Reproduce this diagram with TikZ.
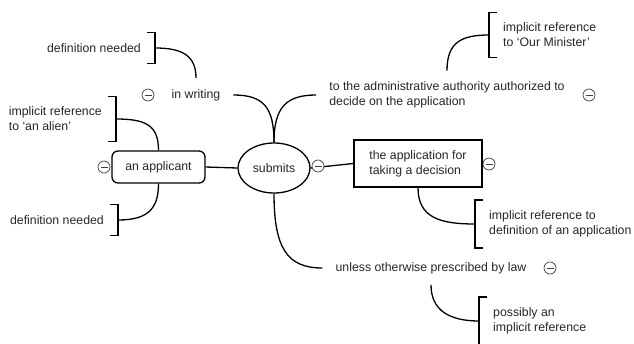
\documentclass[tikz,border=0pt]{standalone}
\usepackage{fontspec}
\setmainfont{Liberation Sans}
\usetikzlibrary{shapes.geometric}
\begin{document}
\begin{tikzpicture}[x=1pt,y=-1pt,
  font=\fontsize{12.3}{15}\selectfont,
  conn/.style={line width=1.3pt, black},
  topic/.style={inner xsep=13pt, inner ysep=11pt, align=left, text=black!85},
  note/.style={inner xsep=14pt, inner ysep=10.5pt, align=left, text=black!85},
  brk/.style={line width=1.3pt, black},
  mainbox/.style={draw, line width=1.3pt, text=black!85, inner sep=0pt},
  minus/.style={circle, draw=black!75, line width=0.7pt, fill=white, minimum size=12pt, inner sep=0pt,
    path picture={\draw[line width=0.7pt, black!75] ([xshift=-3.5pt]path picture bounding box.center) -- ([xshift=3.5pt]path picture bounding box.center);}},
]
\useasboundingbox (0,0) rectangle (634,343);
\clip (0,0) rectangle (634,343);

% central nodes
\node[mainbox, ellipse, minimum width=72pt, minimum height=50pt] (submits) at (274,168) {submits};
\node[mainbox, rounded corners=6pt, minimum width=93pt, minimum height=32pt] (applicant) at (158.5,167) {an applicant};
\node[mainbox, minimum width=128pt, minimum height=47pt, align=left] (app) at (418,163.5) {the application for\\taking a decision};

% topic nodes
\node[topic] (inwriting) at (196,95) {in writing};
\node[topic] (admin) at (447,95) {to the administrative authority authorized to\\decide on the application};
\node[topic] (unless) at (431,268) {unless otherwise prescribed by law};

% notes
\node[note, anchor=east] (def1) at (155,48) {definition needed};
\node[note, anchor=east] (alien) at (116,119) {implicit reference\\to `an alien'};
\node[note, anchor=east] (def2) at (118,220) {definition needed};
\node[note, anchor=west] (minister) at (489,35) {implicit reference\\to `Our Minister'};
\node[note, anchor=west] (defapp) at (475,224) {implicit reference to\\definition of an application};
\node[note, anchor=west] (possibly) at (479,321) {possibly an\\implicit reference};

% brackets
\foreach \n in {def1,alien,def2}{
  \draw[brk] ([xshift=-8pt]\n.north east) -- (\n.north east) -- (\n.south east) -- ([xshift=-8pt]\n.south east);
}
\foreach \n in {minister,defapp,possibly}{
  \draw[brk] ([xshift=8pt]\n.north west) -- (\n.north west) -- (\n.south west) -- ([xshift=8pt]\n.south west);
}

% connectors
\draw[conn] (applicant.east) -- (submits.west);
\draw[conn] (submits.east) -- (app.west);
\draw[conn] (submits.north) .. controls +(0,-35) and +(30,0) .. (inwriting.east);
\draw[conn] (submits.north) .. controls +(0,-35) and +(-30,0) .. (admin.west);
\draw[conn] (submits.south) .. controls +(0,55) and +(-35,0) .. (unless.west);
\draw[conn] (inwriting.north) .. controls +(0,-22) and +(28,0) .. (def1.east);
\draw[conn] (applicant.north) .. controls +(0,-25) and +(30,0) .. (alien.east);
\draw[conn] (applicant.south) .. controls +(0,25) and +(30,0) .. (def2.east);
\draw[conn] (admin.north) .. controls +(0,-28) and +(-28,0) .. (minister.west);
\draw[conn] (app.south) .. controls +(0,30) and +(-35,0) .. (defapp.west);
\draw[conn] (unless.south) .. controls +(0,25) and +(-30,0) .. (possibly.west);

% collapse markers
\node[minus] (m1) at (148,95) {};
\node[minus] (m2) at (104,167) {};
\node[minus] (m3) at (318,166) {};
\node[minus] (m4) at (489,164) {};
\node[minus] (m5) at (589,95) {};
\node[minus] (m6) at (550,268) {};
\end{tikzpicture}
\end{document}
